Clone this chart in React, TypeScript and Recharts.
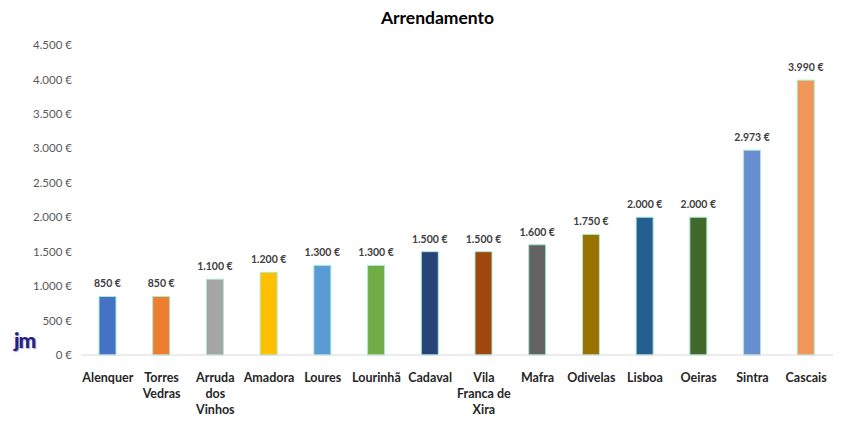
import React from 'react';
import { BarChart, Bar, XAxis, YAxis, Cell, LabelList } from 'recharts';

const categories = ['Alenquer', 'Torres Vedras', 'Arruda dos Vinhos', 'Amadora', 'Loures', 'Lourinhã', 'Cadaval', 'Vila Franca de Xira', 'Mafra', 'Odivelas', 'Lisboa', 'Oeiras', 'Sintra', 'Cascais'];
const tickLines = [['Alenquer'], ['Torres', 'Vedras'], ['Arruda', 'dos', 'Vinhos'], ['Amadora'], ['Loures'], ['Lourinhã'], ['Cadaval'], ['Vila', 'Franca de', 'Xira'], ['Mafra'], ['Odivelas'], ['Lisboa'], ['Oeiras'], ['Sintra'], ['Cascais']];
const values = [850, 850, 1100, 1200, 1300, 1300, 1500, 1500, 1600, 1750, 2000, 2000, 2973, 3990];
const colors = ['#4472C4', '#ED7D31', '#A5A5A5', '#FFC000', '#5B9BD5', '#70AD47', '#264478', '#9E480E', '#636363', '#997300', '#255E91', '#43682B', '#698ED0', '#F1975A'];
const yTicks = [0, 500, 1000, 1500, 2000, 2500, 3000, 3500, 4000, 4500];

const data = categories.map((c, i) => ({ name: c, value: values[i] }));

const fmt = (v: number) => v.toLocaleString('de-DE') + ' €';
const FONT = 'Lato, "Open Sans", sans-serif';

const CatTick = (props: any) => {
  const { x, y, index } = props;
  const lines = tickLines[index] || [String(props.payload.value)];
  return (
    <g transform={`translate(${x},${y})`}>
      {lines.map((l, i) => (
        <text key={i} x={0} y={19 + i * 16} textAnchor="middle" fontSize={12.5} fontWeight="bold" fill="#262626" fontFamily={FONT}>{l}</text>
      ))}
    </g>
  );
};

const ValueLabel = (props: any) => {
  const { x, y, width, value } = props;
  return (
    <text x={Number(x) + Number(width) / 2} y={Number(y) - 9} textAnchor="middle" fontSize={10.5} fontWeight="bold" fill="#404040" fontFamily={FONT}>{fmt(Number(value))}</text>
  );
};

export default function App() {
  return (
    <div style={{ position: 'absolute', left: 0, top: 0, width: 845, height: 433, background: '#fff', fontFamily: FONT }}>
      <div style={{ position: 'absolute', left: 0, width: 845, top: 7, textAlign: 'center', fontSize: 17.5, fontWeight: 'bold', color: '#000', paddingLeft: 30, boxSizing: 'border-box' }}>Arrendamento</div>
      <div style={{ position: 'absolute', left: 14, top: 327, fontSize: 21, fontWeight: 900, color: '#1F1F8F', letterSpacing: -1, textShadow: '1px 1px 1px #aaa' }}>jm</div>
      <BarChart width={845} height={433} data={data} margin={{ top: 45, right: 12, left: 0, bottom: 0 }}>
        <XAxis dataKey="name" interval={0} tick={<CatTick />} tickLine={false} axisLine={{ stroke: '#D9D9D9' }} height={78} />
        <YAxis width={81} domain={[0, 4500]} ticks={yTicks} tickFormatter={fmt} tickLine={false} axisLine={false} tickMargin={3} tick={{ fontSize: 11.5, fill: '#595959', fontFamily: FONT }} interval={0} />
        <Bar dataKey="value" barSize={17} isAnimationActive={false} stroke="#A8EBCF" strokeWidth={1}>
          {data.map((d, i) => (
            <Cell key={i} fill={colors[i]} />
          ))}
          <LabelList dataKey="value" content={<ValueLabel />} />
        </Bar>
      </BarChart>
    </div>
  );
}
